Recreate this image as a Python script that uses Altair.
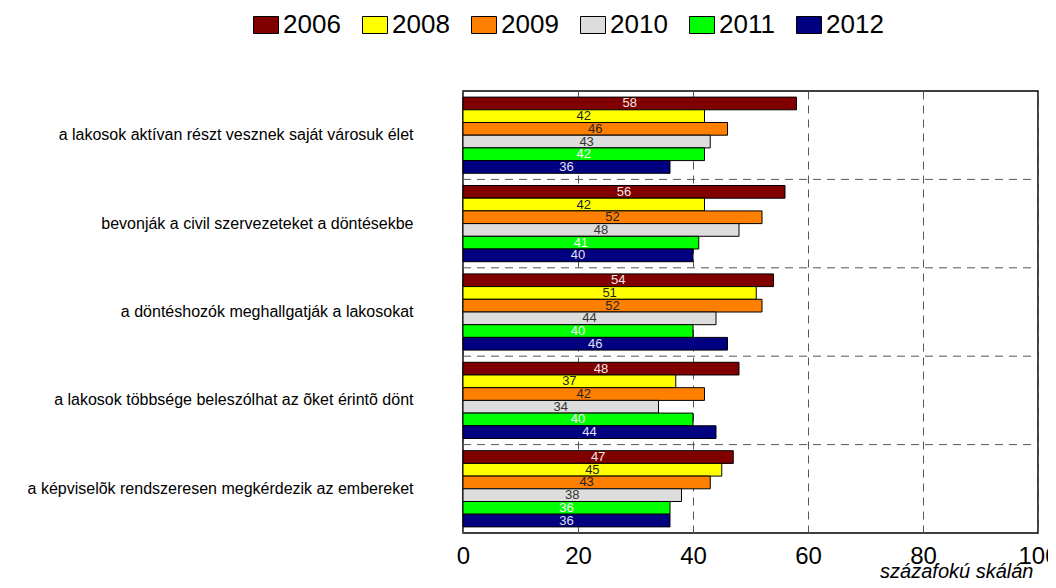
import altair as alt
import pandas as pd

categories = [
    "a lakosok aktívan részt vesznek saját városuk élet",
    "bevonják a civil szervezeteket a döntésekbe",
    "a döntéshozók meghallgatják a lakosokat",
    "a lakosok többsége beleszólhat az õket érintõ dönt",
    "a képviselõk rendszeresen megkérdezik az embereket",
]
years = ["2006", "2008", "2009", "2010", "2011", "2012"]
v2006 = [58, 56, 54, 48, 47]
v2008 = [42, 42, 51, 37, 45]
v2009 = [46, 52, 52, 42, 43]
v2010 = [43, 48, 44, 34, 38]
v2011 = [42, 41, 40, 40, 36]
v2012 = [36, 40, 46, 44, 36]
x_ticks = [0, 20, 40, 60, 80, 100]

bar_colors = ["#800000", "#ffff00", "#ff8000", "#dddddd", "#00ff00", "#000080"]
label_colors = {"2006": "#f2e6e6", "2008": "#222222", "2009": "#222222",
                "2010": "#333333", "2011": "#ffffff", "2012": "#e0e0f0"}

rows = []
for yr, vals in zip(years, [v2006, v2008, v2009, v2010, v2011, v2012]):
    for c, v in zip(categories, vals):
        rows.append({"cat": c, "year": yr, "value": v, "tc": label_colors[yr]})
df = pd.DataFrame(rows)

FONT = "Liberation Sans, Arial, sans-serif"
W, H = 575, 442

yenc = alt.Y(
    "cat:N", sort=categories,
    scale=alt.Scale(paddingInner=0, paddingOuter=0),
    axis=alt.Axis(title=None, labelFont=FONT, labelFontSize=16, labelColor="black",
                  labelPadding=50, labelLimit=0, ticks=False, domain=False, grid=False,
                  labelAlign="right"),
)
yoff = alt.YOffset("year:N", sort=years, scale=alt.Scale(paddingInner=0, paddingOuter=0.48))
xaxis = alt.Axis(
    values=x_ticks, grid=True, gridDash=[8, 6], gridColor="#555555", gridOpacity=1,
    gridWidth=1, domain=False, ticks=False, labelFont=FONT, labelFontSize=24,
    labelColor="black", labelPadding=11, labelFlush=False,
    titleFont=FONT, titleFontStyle="italic", titleFontSize=20,
    titleFontWeight="normal", titleColor="black", titleAnchor="end", titleAlign="right",
    titleX=570, titleY=44, titleBaseline="alphabetic",
)
xscale = alt.Scale(domain=[0, 100], nice=False)

bars = alt.Chart(df).mark_bar(stroke="black", strokeWidth=1).encode(
    x=alt.X("value:Q", scale=xscale, axis=xaxis, title="százafokú skálán"),
    y=yenc,
    yOffset=yoff,
    color=alt.Color(
        "year:N", sort=years,
        scale=alt.Scale(domain=years, range=bar_colors),
        legend=alt.Legend(
            title=None, orient="none", legendX=-210, legendY=-79, direction="horizontal",
            symbolType="M-1,-0.68H1V0.68H-1Z", symbolSize=625,
            symbolStrokeColor="black", symbolStrokeWidth=1, symbolOpacity=1,
            labelFont=FONT, labelFontSize=26, labelColor="black", labelOffset=4,
            columnPadding=19, padding=0,
        ),
    ),
)

labels = alt.Chart(df).transform_calculate(mid="datum.value / 2").mark_text(
    font=FONT, fontSize=13, baseline="middle", align="center"
).encode(
    x=alt.X("mid:Q", scale=xscale, title="százafokú skálán"),
    y=yenc,
    yOffset=yoff,
    text=alt.Text("value:Q"),
    color=alt.Color("tc:N", scale=None),
)

rules = alt.Chart(pd.DataFrame({"cat": categories[1:]})).mark_rule(
    strokeDash=[8, 6], color="#555555", strokeWidth=1
).encode(
    y=alt.Y("cat:N", sort=categories, bandPosition=0),
    x=alt.value(0),
    x2=alt.value(W),
)

chart = alt.layer(rules, bars, labels).properties(
    width=W, height=H,
    autosize=alt.AutoSizeParams(type="none"),
    padding={"left": 455, "top": 83, "right": 10, "bottom": 47},
).configure_view(stroke="black", strokeWidth=1.5)

chart.save("out.html", embed_options={"renderer": "svg", "actions": False})
